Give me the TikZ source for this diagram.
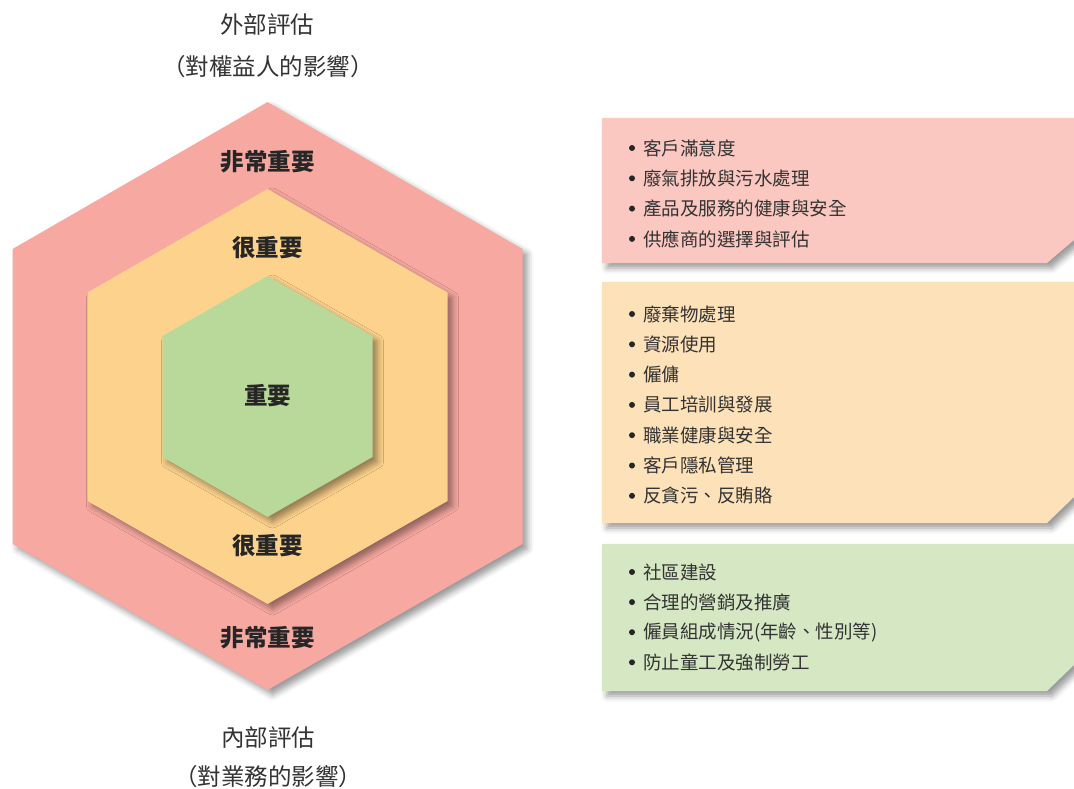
\documentclass[tikz,border=0pt]{standalone}
\usepackage{fontspec}
\setmainfont{Noto Sans CJK TC}
\usetikzlibrary{shadows.blur}
\definecolor{hexA}{HTML}{F7A9A1}
\definecolor{hexB}{HTML}{FDD28C}
\definecolor{hexC}{HTML}{B8D99A}
\definecolor{boxA}{HTML}{FAC8C1}
\definecolor{boxB}{HTML}{FDE1B8}
\definecolor{boxC}{HTML}{D5E8C3}
\definecolor{txt}{HTML}{333333}
\tikzset{
  shad/.style={blur shadow={shadow xshift=5pt, shadow yshift=-5pt, shadow blur radius=6pt, shadow opacity=40}},
  hexlabel/.style={font=\fontsize{23.5}{26}\selectfont\bfseries, text=black!85, inner sep=0pt},
  title/.style={font=\fontsize{23.5}{26}\selectfont, text=txt, inner sep=0pt},
  item/.style={font=\fontsize{18.5}{20}\selectfont, text=txt, anchor=west, inner sep=0pt},
  bul/.style={fill=black!85, circle, inner sep=0pt, minimum size=6pt},
}
\begin{document}
\begin{tikzpicture}[x=1pt,y=-1pt]
\useasboundingbox (0,0) rectangle (1074,788);
% hexagons
\path[fill=hexA, shad] (267.5,102) -- (522.5,249) -- (522.5,544) -- (267.5,690) -- (12.5,544) -- (12.5,249) -- cycle;
\path[fill=hexB, shad] (267.5,189) -- (447.5,292.5) -- (447.5,501) -- (267.5,604) -- (87.5,501) -- (87.5,292.5) -- cycle;
\path[fill=hexC, shad] (267.5,276) -- (372.5,336) -- (372.5,457) -- (267.5,517) -- (162.5,457) -- (162.5,336) -- cycle;
\node[hexlabel] (l1) at (267.5,162) {非常重要};
\node[hexlabel] (l2) at (267.5,248) {很重要};
\node[hexlabel] (l3) at (267.5,396) {重要};
\node[hexlabel] (l4) at (267.5,546) {很重要};
\node[hexlabel] (l5) at (267.5,638) {非常重要};
% titles
\node[title] (t1) at (267,25) {外部評估};
\node[title] (t2) at (268,67) {（對權益人的影響）};
\node[title] (t3) at (268,738) {內部評估};
\node[title] (t4) at (268,777) {（對業務的影響）};
% boxes
\path[fill=boxA, shad] (602,118) -- (1074,118) -- (1074,240) -- (1047,263) -- (602,263) -- cycle;
\path[fill=boxB, shad] (602,282) -- (1074,282) -- (1074,497) -- (1047,523) -- (602,523) -- cycle;
\path[fill=boxC, shad] (602,544) -- (1074,544) -- (1074,665) -- (1047,691) -- (602,691) -- cycle;
% items
\foreach \t [count=\i] in {客戶滿意度,廢氣排放與污水處理,產品及服務的健康與安全,供應商的選擇與評估}{
  \node[item] (a\i) at (643,{148+30.3*(\i-1)}) {\t};
  \node[bul] (ab\i) at (632,{148+30.3*(\i-1)}) {};
}
\foreach \t [count=\i] in {廢棄物處理,資源使用,僱傭,員工培訓與發展,職業健康與安全,客戶隱私管理,反貪污、反賄賂}{
  \node[item] (b\i) at (643,{314+30.3*(\i-1)}) {\t};
  \node[bul] (bb\i) at (632,{314+30.3*(\i-1)}) {};
}
\foreach \t [count=\i] in {社區建設,合理的營銷及推廣,僱員組成情況(年齡、性別等),防止童工及強制勞工}{
  \node[item] (c\i) at (643,{572+30.1*(\i-1)}) {\t};
  \node[bul] (cb\i) at (632,{572+30.1*(\i-1)}) {};
}
\end{tikzpicture}
\end{document}
